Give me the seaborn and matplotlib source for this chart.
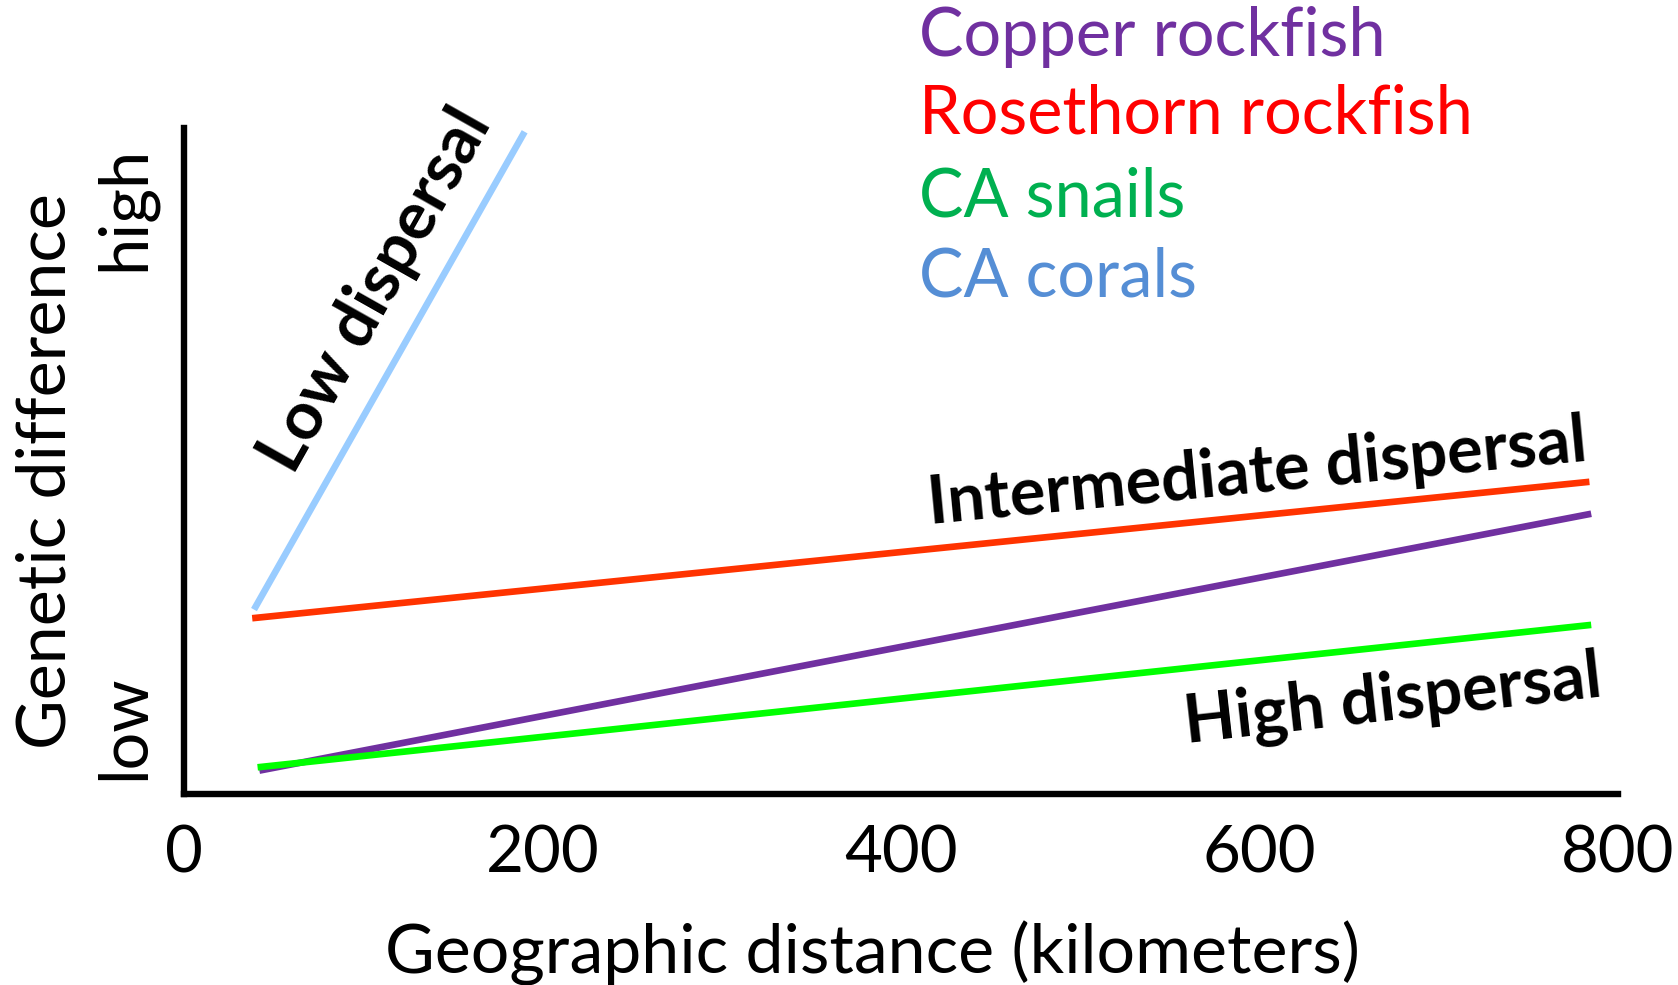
import numpy as np
import pandas as pd
import seaborn as sns
import matplotlib.pyplot as plt

sns.set_style("white")
plt.rcParams['font.family'] = ['Lato', 'DejaVu Sans']
plt.rcParams['text.color'] = 'black'
plt.rcParams['xtick.color'] = 'black'
plt.rcParams['ytick.color'] = 'black'
plt.rcParams['axes.labelcolor'] = 'black'

# --- data ---
species = ['Copper rockfish', 'Rosethorn rockfish', 'CA snails', 'CA corals']
dist_start = [42, 38, 41, 39]          # km
dist_end = [785, 784, 785, 190]        # km
gd_start = [3.5, 26.4, 4.0, 27.7]      # genetic difference (arbitrary 0-100)
gd_end = [42.1, 46.9, 25.4, 99.5]

line_colors = ['#7030A0', '#FF3300', '#00FF00', '#99CCFF']
text_colors = ['#7030A0', '#FF0000', '#00B050', '#558ED5']

x_ticks = [0, 200, 400, 600, 800]
y_ticks = [10, 88]
y_ticklabels = ['low', 'high']

df = pd.DataFrame({
    'species': np.repeat(species, 2),
    'distance': np.ravel(np.column_stack([dist_start, dist_end])),
    'genetic': np.ravel(np.column_stack([gd_start, gd_end])),
})

fig = plt.figure(figsize=(16.78, 9.85), dpi=100)
ax = fig.add_axes([0.1097, 0.194, 0.8546, 0.6756])

sns.lineplot(data=df, x='distance', y='genetic', hue='species',
             hue_order=species, palette=line_colors, linewidth=4.8,
             legend=False, ax=ax, solid_capstyle='butt', sort=False)

ax.set_xlim(0, 800)
ax.set_ylim(0, 100)
ax.set_xticks(x_ticks)
ax.set_xticklabels([str(t) for t in x_ticks], fontsize=47)
ax.set_yticks(y_ticks)
ax.set_yticklabels(y_ticklabels, fontsize=48, rotation=90, va='center')
ax.tick_params(axis='x', length=0, pad=22)
ax.tick_params(axis='y', length=0, pad=20)

sns.despine(ax=ax)
for side in ['left', 'bottom']:
    ax.spines[side].set_linewidth(4.6)
    ax.spines[side].set_color('black')

ax.set_xlabel('Geographic distance (kilometers)', fontsize=49)
ax.xaxis.set_label_coords(0.48, -0.19)
ax.set_ylabel('Genetic difference', fontsize=49)
ax.yaxis.set_label_coords(-0.074, 0.485)

# dispersal annotations
ax.text(107.5, 75.6, 'Low dispersal', fontsize=48, fontweight='bold',
        rotation=60.6, rotation_mode='anchor', ha='center', va='center')
ax.text(599, 48.1, 'Intermediate dispersal', fontsize=48, fontweight='bold',
        rotation=5.5, rotation_mode='anchor', ha='center', va='center')
ax.text(674.6, 14.0, 'High dispersal', fontsize=48, fontweight='bold',
        rotation=6.4, rotation_mode='anchor', ha='center', va='center')

# coloured species labels (legend)
legend_y = [0.943, 0.864, 0.780, 0.699]
for name, col, yy in zip(species, text_colors, legend_y):
    fig.text(0.5477, yy, name, color=col, fontsize=48, va='baseline', ha='left')

fig.savefig('out.png', dpi=100)
